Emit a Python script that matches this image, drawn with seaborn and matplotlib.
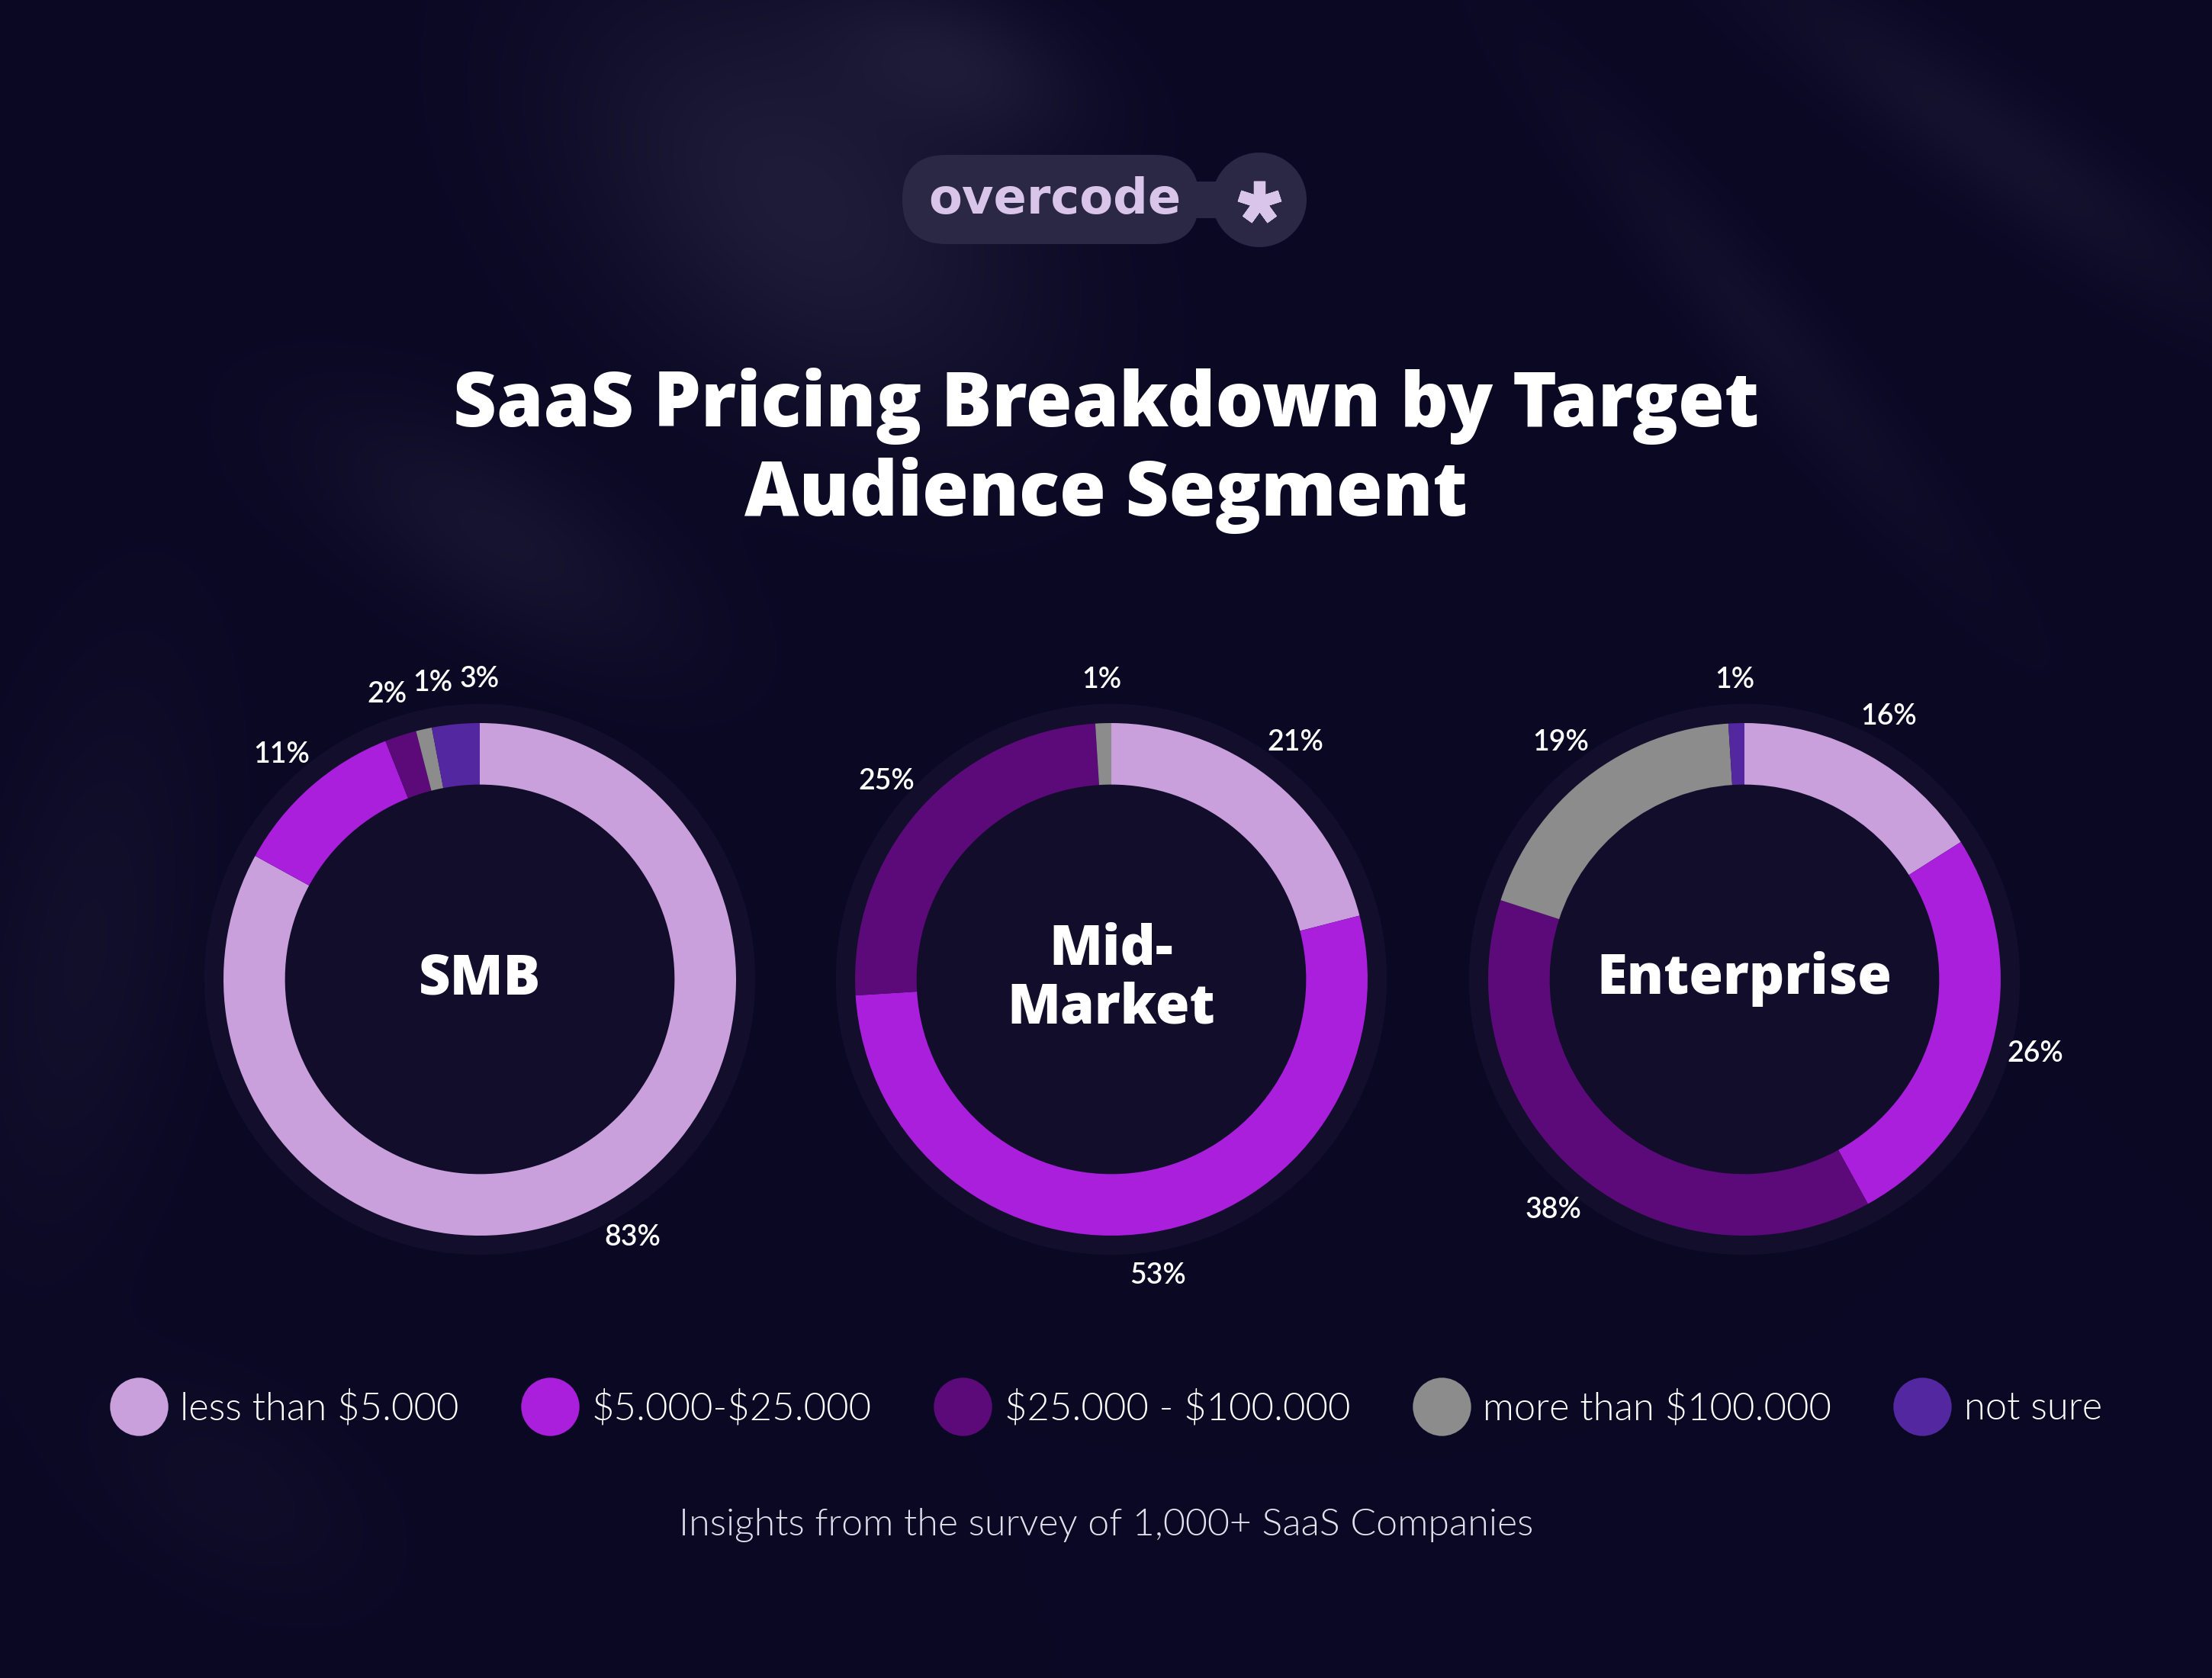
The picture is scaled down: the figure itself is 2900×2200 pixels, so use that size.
import numpy as np
import matplotlib
matplotlib.use('Agg')  # no display in the sandbox
import matplotlib.pyplot as plt
from matplotlib.patches import Circle, FancyBboxPatch, Rectangle
from matplotlib.lines import Line2D
import seaborn as sns

# --- data ---
segments = ['SMB', 'Mid-\nMarket', 'Enterprise']
price_bands = ['less than $5.000', '$5.000-$25.000', '$25.000 - $100.000',
               'more than $100.000', 'not sure']
smb_share = [83, 11, 2, 1, 3]
mid_market_share = [21, 53, 25, 1, 0]
enterprise_share = [16, 26, 38, 19, 1]
band_colors = ['#C9A0DC', '#A91FDB', '#5C0A7A', '#8C8C8C', '#5227A0']

title = 'SaaS Pricing Breakdown by Target\nAudience Segment'
footer = 'Insights from the survey of 1,000+ SaaS Companies'
brand = 'overcode'

W, H = 2900, 2200
BG = '#0B0824'


def background_image():
    # soft light blobs behind everything, like the blurred shapes in the poster
    ys, xs = np.mgrid[0:H:4, 0:W:4].astype(float)
    glow = np.zeros_like(xs)
    blobs = [  # cx, cy, sx, sy, angle, strength
        (1050, 260, 330, 220, 40, 0.60),
        (1250, 80, 170, 90, 20, 0.45),
        (650, 700, 260, 110, 30, 0.35),
        (2600, 180, 380, 70, 35, 0.30),
        (2300, 420, 420, 60, 50, 0.22),
        (110, 1250, 140, 380, 10, 0.22),
        (300, 1950, 200, 120, 30, 0.15),
    ]
    for cx, cy, sx, sy, ang, k in blobs:
        a = np.deg2rad(ang)
        dx, dy = xs - cx, ys - cy
        u = dx * np.cos(a) + dy * np.sin(a)
        v = -dx * np.sin(a) + dy * np.cos(a)
        glow += k * np.exp(-((u / sx) ** 2 + (v / sy) ** 2))
    glow = np.clip(glow, 0, 1)[..., None]
    base = np.array(matplotlib.colors.to_rgb(BG))
    hi = np.array(matplotlib.colors.to_rgb('#2C2947'))
    return base + (hi - base) * glow


def main():
    sns.set_theme(style='white')
    plt.rcParams['font.family'] = ['Lato', 'DejaVu Sans']
    palette = sns.color_palette(band_colors)
    heavy = ['Open Sans', 'Lato', 'DejaVu Sans']

    fig = plt.figure(figsize=(29, 22), dpi=100, facecolor=BG)

    # full-figure axes in pixel units for background + logo
    bg = fig.add_axes([0, 0, 1, 1])
    bg.set_xlim(0, W)
    bg.set_ylim(H, 0)
    bg.axis('off')
    bg.imshow(background_image(), extent=(0, W, H, 0), interpolation='bicubic', zorder=0)

    # logo pill
    pill = '#2B2845'
    bg.add_patch(FancyBboxPatch((1183, 203), 389, 117,
                                boxstyle='round,pad=0,rounding_size=58',
                                facecolor=pill, edgecolor='none', zorder=2))
    bg.add_patch(Rectangle((1540, 238), 70, 48, facecolor=pill, edgecolor='none', zorder=2))
    bg.add_patch(Circle((1651, 262), 62, facecolor=pill, edgecolor='none', zorder=2))
    bg.text(1383, 262, brand, ha='center', va='center', fontsize=46,
            family='DejaVu Sans', fontweight='semibold', color='#D9C5EA', zorder=3)
    bg.plot([1651], [265], marker=(5, 2, 0), markersize=40, mew=11,
            color='#D9C5EA', zorder=3)

    # title
    fig.text(0.5, 1 - 591 / H, title, ha='center', va='center', fontsize=71,
             family=heavy, fontweight=800, color='white', linespacing=1.22)

    # donuts
    centers_x = [629, 1457, 2287]
    cy = 1284
    r_px = 336
    lim = 1.6
    size = 2 * r_px * lim
    shares_all = [smb_share, mid_market_share, enterprise_share]
    for name, shares, cx in zip(segments, shares_all, centers_x):
        ax = fig.add_axes([(cx - size / 2) / W, 1 - (cy + size / 2) / H, size / W, size / H])
        ax.patch.set_alpha(0)

        ax.add_patch(Circle((0, 0), 1.075, facecolor='#120E2C', edgecolor='none', zorder=0))
        ax.add_patch(Circle((0, 0), 0.77, facecolor='#110D2B', edgecolor='none', zorder=0))
        wedges, _ = ax.pie(shares, colors=palette, startangle=90, counterclock=False,
                           radius=1, wedgeprops=dict(width=0.24, linewidth=0))
        # pie() resets the limits, so set them afterwards
        ax.set_xlim(-lim, lim)
        ax.set_ylim(-lim, lim)
        ax.set_aspect('equal')
        ax.axis('off')

        # percent labels at slice middles, spread apart when slices are tiny
        prev = -1e9
        for w, v in zip(wedges, shares):
            if v <= 0:
                continue
            mid = (w.theta1 + w.theta2) / 2
            cw = (90 - mid) % 360
            cw = max(cw, prev + 9)
            prev = cw
            t = np.deg2rad(cw)
            ax.text(1.17 * np.sin(t), 1.17 * np.cos(t), f'{v}%', ha='center', va='center',
                    fontsize=27, fontweight='semibold', color='white')

        ax.text(0, 0, name, ha='center', va='center', fontsize=52, family=heavy,
                fontweight=800, color='white', linespacing=1.1)

    # legend ($ escaped so it is not read as mathtext)
    handles = [Line2D([], [], marker='o', linestyle='none', markersize=55,
                      markerfacecolor=c, markeredgewidth=0) for c in palette]
    labels = [s.replace('$', r'\$') for s in price_bands]
    fig.legend(handles, labels, loc='center', bbox_to_anchor=(0.5, 1 - 1846 / H),
               ncol=5, frameon=False, handlelength=1.5, handletextpad=0.33,
               columnspacing=1.6, labelcolor='white',
               prop=dict(family='Lato', weight=300, size=36.5))

    fig.text(0.5, 1 - 2000 / H, footer, ha='center', va='center', fontsize=36,
             family='Lato', fontweight=300, color='#E2E0EC')

    fig.savefig('out.png', dpi=100, facecolor=BG)


if __name__ == '__main__':
    main()
